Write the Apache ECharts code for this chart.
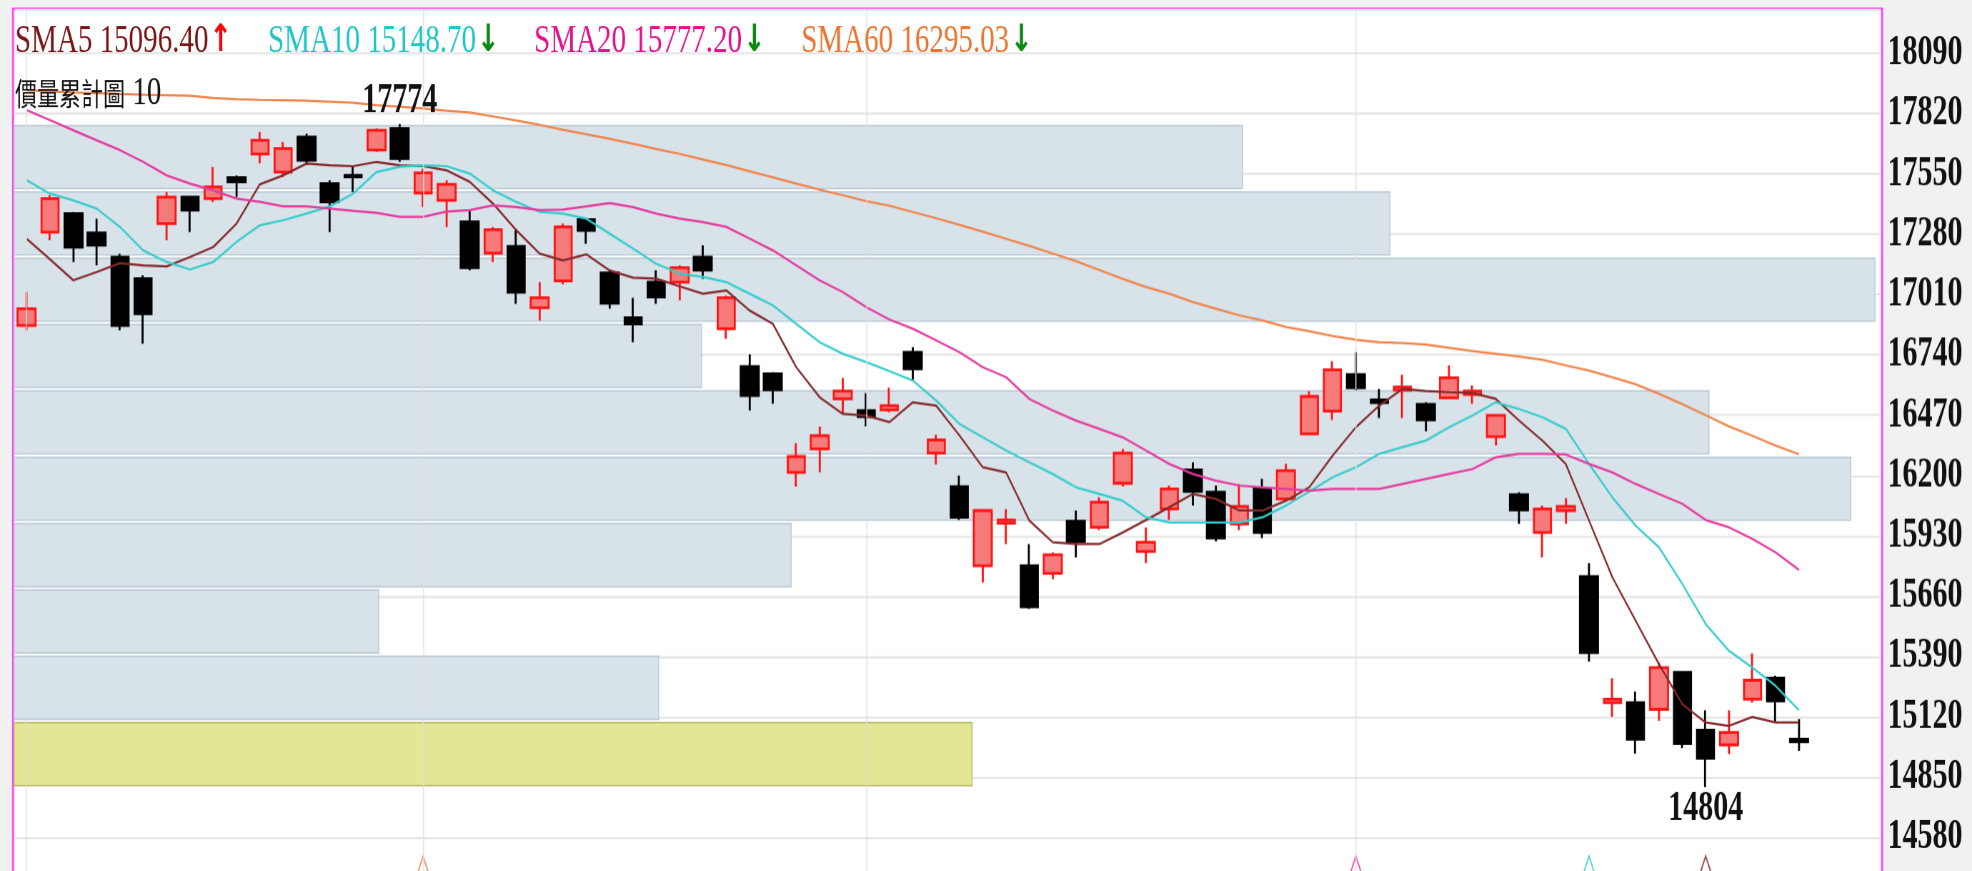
<!DOCTYPE html>
<html>
<head>
<meta charset="utf-8">
<title>SMA 價量累計圖</title>
<script src="https://cdn.jsdelivr.net/npm/echarts@6/dist/echarts.min.js"></script>
<style>
  html, body { margin: 0; padding: 0; width: 1972px; height: 871px; overflow: hidden; background: #f0f1f1; }
  /* the source picture is stretched vertically, so is this one */
  #chart { width: 1972px; height: 650px; transform: scaleY(1.4); transform-origin: 0 0; }
</style>
</head>
<body>
<div id="chart"></div>
<script>
// 80 day slots, the last 3 stay empty
var categories = [];
for (var n = 1; n <= 80; n++) categories.push('D' + n);

var openP = [16872,17290,17373,17286,17178,17081,17328,17447,17440,17534,
  17639,17559,17716,17507,17544,17657,17754,17465,17432,17335,
  17196,17226,16951,17071,17346,17107,16906,17066,17066,17178,
  16857,16688,16655,16214,16319,16543,16491,16494,16752,16300,
  16150,15796,15986,15796,15762,15995,15968,16165,15860,16050,
  16225,16125,15983,16140,16095,16386,16488,16652,16539,16581,
  16518,16548,16563,16374,16114,15945,16043,15747,15183,15183,
  15153,15318,15059,14994,15198,15292,15019];
var closeP = [16947,17440,17223,17231,16872,16924,17447,17388,17492,17515,
  17701,17664,17612,17425,17537,17746,17619,17555,17504,17131,
  17301,17021,16996,17313,17298,16972,16879,16999,17131,17119,
  16996,16558,16584,16285,16379,16578,16464,16513,16678,16359,
  16013,16043,16001,15612,15845,15905,16080,16300,15901,16140,
  16129,15920,16061,15945,16222,16554,16673,16593,16527,16596,
  16449,16637,16578,16469,16046,16050,16061,15407,15198,15019,
  15340,15000,14934,15049,15283,15191,15008];
var lowP = [16850,17253,17156,17141,16850,16790,17253,17290,17425,17447,
  17597,17537,17589,17290,17470,17649,17604,17402,17313,17119,
  17156,16969,16894,17056,17238,16947,16797,16969,16984,17081,
  16812,16491,16521,16150,16214,16479,16419,16483,16628,16249,
  16001,15721,15893,15602,15736,15833,15956,16150,15807,16001,
  16065,15905,15956,15920,16087,16383,16449,16581,16458,16458,
  16398,16543,16521,16334,15983,15833,15983,15367,15119,14955,
  15101,14979,14804,14952,15183,15094,14967];
var highP = [17021,17455,17380,17350,17193,17096,17470,17450,17582,17544,
  17739,17694,17731,17522,17585,17754,17774,17574,17522,17388,
  17313,17305,17066,17328,17350,17122,16996,17119,17141,17231,
  17006,16742,16663,16344,16419,16637,16569,16593,16775,16383,
  16200,16050,16050,15893,15856,16043,16102,16319,15968,16155,
  16259,16155,16162,16185,16252,16578,16712,16752,16588,16652,
  16528,16693,16603,16476,16125,16065,16099,15807,15292,15233,
  15363,15320,15149,15149,15403,15303,15109];

var ma5 = [17260,17168,17074,17111,17151,17141,17136,17178,17223,17328,
  17504,17544,17597,17589,17585,17604,17589,17585,17567,17515,
  17417,17298,17193,17163,17190,17118,17086,17081,17047,17014,
  17029,16939,16879,16685,16551,16476,16468,16439,16528,16513,
  16379,16237,16214,15998,15901,15893,15893,15945,16001,16058,
  16117,16095,16043,16043,16087,16147,16289,16416,16513,16588,
  16578,16573,16569,16543,16446,16356,16252,15998,15744,15549,
  15355,15176,15094,15079,15119,15094,15094];
var ma10 = [17522,17462,17432,17395,17313,17208,17156,17122,17156,17246,
  17320,17343,17373,17405,17462,17559,17582,17589,17585,17552,
  17477,17425,17380,17373,17350,17283,17216,17148,17104,17089,
  17066,17014,16962,16879,16797,16745,16708,16667,16625,16536,
  16431,16371,16312,16259,16207,16147,16117,16087,16013,15990,
  15990,15990,15990,16013,16065,16128,16192,16237,16297,16327,
  16356,16416,16469,16528,16498,16461,16409,16252,16102,15975,
  15878,15714,15535,15415,15340,15258,15149];
var ma20 = [17836,17791,17746,17701,17657,17604,17544,17507,17477,17440,
  17425,17405,17405,17395,17385,17376,17358,17358,17382,17388,
  17410,17402,17388,17391,17405,17420,17402,17373,17350,17335,
  17313,17261,17208,17141,17074,17021,16954,16898,16857,16805,
  16752,16685,16640,16543,16491,16446,16409,16371,16312,16252,
  16207,16177,16155,16147,16140,16132,16140,16140,16140,16162,
  16185,16207,16229,16282,16297,16297,16294,16252,16214,16162,
  16117,16073,16001,15968,15916,15856,15777];
var ma60 = [17925,17920,17915,17912,17908,17905,17903,17900,17890,17885,
  17882,17880,17878,17874,17869,17858,17851,17843,17833,17825,
  17808,17790,17770,17748,17728,17708,17685,17662,17640,17615,
  17590,17562,17535,17507,17480,17455,17429,17408,17380,17352,
  17322,17292,17260,17228,17194,17160,17120,17080,17044,17014,
  16977,16947,16917,16894,16865,16846,16825,16808,16797,16793,
  16787,16772,16757,16745,16733,16718,16693,16670,16640,16608,
  16566,16520,16470,16420,16378,16334,16295];

// legend values as printed
var maNames = ['SMA5', 'SMA10', 'SMA20', 'SMA60'];
var maLastText = ['15096.40', '15148.70', '15777.20', '16295.03'];
var maTrend = ['up', 'down', 'down', 'down'];

// 價量累計圖: 10 price bins between the low and the high, volume in % of the axis
var profileEdges = [14804, 15101, 15398, 15695, 15992, 16289, 16586, 16883, 17180, 17477, 17774];
var profileVol = [51.3, 34.5, 19.5, 41.6, 98.4, 90.8, 36.8, 99.7, 73.7, 65.8];

var monthStartIdx = [0, 17, 36, 57];
var signalIdx = [17, 57, 67, 72];

var yTicks = { min: 14310, max: 18289, step: 270 };

(function () {

  var STATIC = {};
  STATIC.maColor = ['#84292b', '#34cdcd', '#e6399e', '#f0854b'];
  STATIC.maText = ['#7a1616', '#1fc6c6', '#e5118b', '#ee7431'];
  STATIC.signalColor = ['#f0854b', '#e6399e', '#34cdcd', '#84292b'];
  STATIC.markerPrice = 14433;
  STATIC.serif = 'Liberation Serif';

  function _init(){
    var chart = echarts.init(document.getElementById('chart'), null, {devicePixelRatio: 1.4});
    chart.setOption(_getOption());
  }

  function _candles(){
    return openP.map(function(o, i){
      return [o, closeP[i], lowP[i], highP[i]];
    });
  }

  function _profileData(){
    var last = closeP[closeP.length - 1];
    return profileVol.map(function(v, i){
      var lo = profileEdges[i], hi = profileEdges[i + 1];
      return [v, lo, hi, (last >= lo && last < hi) ? 1 : 0];
    });
  }

  function _profileItem(params, api){
    var p0 = api.coord([0, api.value(2)]);
    var p1 = api.coord([api.value(0), api.value(1)]);
    var hot = api.value(3) === 1;
    return {
      type: 'rect',
      shape: {x: p0[0] - 1, y: p0[1] + 1.2, width: p1[0] - p0[0] + 1, height: p1[1] - p0[1] - 2.4},
      style: {
        fill: hot ? '#e3e692' : '#d8e2e9',
        stroke: hot ? '#b7ba6b' : '#b8c8d5',
        lineWidth: 1
      }
    };
  }

  function _maSeries(){
    return [ma5, ma10, ma20, ma60].map(function(arr, k){
      return {
        name: maNames[k],
        type: 'line',
        z: 4,
        data: arr,
        showSymbol: false,
        silent: true,
        lineStyle: {color: STATIC.maColor[k], width: 1.6}
      };
    });
  }

  function _legendTexts(){
    var xs = [15, 268, 534, 801];
    var items = maNames.map(function(name, k){
      var up = maTrend[k] === 'up';
      return {
        type: 'text',
        z: 20,
        x: xs[k],
        y: 29.6,
        silent: true,
        style: {
          text: '{t|' + name + ' ' + maLastText[k] + '}{a|' + (up ? '↑' : '↓') + '}',
          verticalAlign: 'middle',
          rich: {
            t: {fill: STATIC.maText[k], fontSize: 29, fontFamily: STATIC.serif},
            a: {fill: up ? '#ff0000' : '#0b8a12', fontSize: 27, fontWeight: 'bold',
                fontFamily: 'DejaVu Sans', padding: [0, 0, 0, 1]}
          }
        }
      };
    });
    items.push({
      type: 'text',
      z: 20,
      x: 15,
      y: 66.6,
      silent: true,
      style: {
        text: '{c|價量累計圖}{n| ' + (profileEdges.length - 1) + '}',
        verticalAlign: 'middle',
        rich: {
          c: {fill: '#111', fontSize: 22, fontFamily: 'Noto Sans CJK TC'},
          n: {fill: '#111', fontSize: 29, fontFamily: STATIC.serif}
        }
      }
    });
    return items;
  }

  function _getOption(){
    var series = [{
      name: 'profile',
      type: 'custom',
      xAxisIndex: 1,
      yAxisIndex: 0,
      z: 1,
      silent: true,
      renderItem: _profileItem,
      encode: {x: 0, y: [1, 2]},
      data: _profileData()
    },{
      name: 'months',
      type: 'line',
      z: 2,
      data: [],
      markLine: {
        silent: true,
        symbol: ['none', 'none'],
        label: {show: false},
        lineStyle: {color: '#e0e0e0', width: 1, type: 'solid'},
        data: monthStartIdx.map(function(i){ return {xAxis: categories[i]}; })
      }
    },{
      name: 'K',
      type: 'candlestick',
      z: 3,
      barWidth: 18,
      data: _candles(),
      itemStyle: {
        color: '#f77a7a',
        color0: '#000000',
        borderColor: '#ff1414',
        borderColor0: '#000000',
        borderWidth: 2
      },
      markPoint: {
        silent: true,
        symbol: 'rect',
        symbolSize: 1,
        itemStyle: {color: 'rgba(0,0,0,0)'},
        label: {
          show: true,
          color: '#111',
          fontFamily: STATIC.serif,
          fontWeight: 'bold',
          fontSize: 30,
          formatter: function(p){ return String(Math.round(p.value)); }
        },
        data: [
          {type: 'max', valueDim: 'highest', label: {position: 'top', distance: 1}},
          {type: 'min', valueDim: 'lowest', label: {position: 'bottom', distance: 0}}
        ]
      }
    }].concat(_maSeries());

    series.push({
      name: 'signals',
      type: 'scatter',
      z: 4,
      silent: true,
      symbol: 'triangle',
      symbolSize: [18, 20],
      itemStyle: {color: 'rgba(255,255,255,0)', borderWidth: 1.5},
      data: signalIdx.map(function(idx, k){
        return {value: [idx, STATIC.markerPrice], itemStyle: {borderColor: STATIC.signalColor[k]}};
      })
    });

    return {
      animation: false,
      backgroundColor: '#f0f1f1',
      grid: {left: 15, right: 92, top: 6.4, bottom: 9.6, containLabel: false, outerBoundsMode: 'none'},
      xAxis: [{
        type: 'category',
        data: categories,
        boundaryGap: true,
        axisLine: {show: false},
        axisTick: {show: false},
        axisLabel: {show: false},
        splitLine: {show: false}
      },{
        type: 'value',
        position: 'top',
        min: 0,
        max: 100,
        show: false
      }],
      yAxis: {
        type: 'value',
        position: 'right',
        min: yTicks.min,
        max: yTicks.max,
        interval: yTicks.step,
        axisLine: {show: false},
        axisTick: {show: false},
        splitLine: {show: true, lineStyle: {color: '#e6e6e6', width: 1.5}},
        axisLabel: {
          showMinLabel: false,
          showMaxLabel: false,
          margin: 7,
          color: '#111',
          fontFamily: STATIC.serif,
          fontWeight: 'bold',
          fontSize: 30,
          formatter: function(v){ return String(v); }
        }
      },
      graphic: [{
        type: 'rect',
        z: -1,
        silent: true,
        shape: {x: 13, y: 6.4, width: 1868.5, height: 700},
        style: {fill: '#ffffff', stroke: '#ff44ff', lineWidth: 2}
      }].concat(_legendTexts()),
      series: series
    };
  }

  window.addEventListener('load', _init);
})();
</script>
</body>
</html>
